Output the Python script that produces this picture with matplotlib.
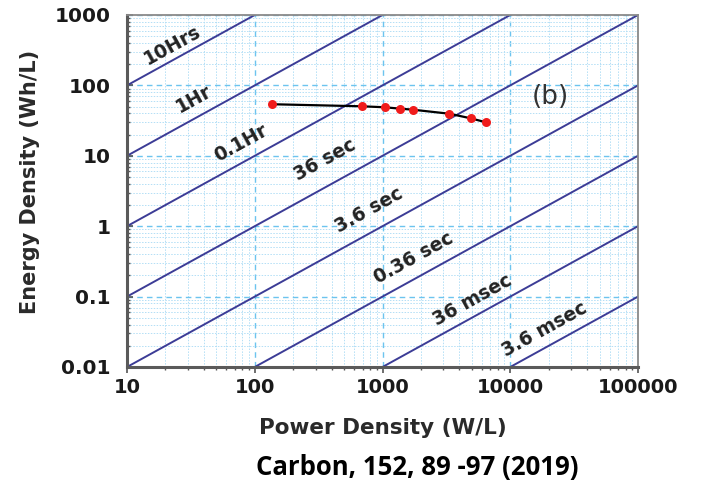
import numpy as np
import matplotlib
matplotlib.use('Agg')
import matplotlib.pyplot as plt
from matplotlib.ticker import LogLocator, NullFormatter


# measured Ragone points
power = [137, 687, 1040, 1378, 1723, 3336, 4900, 6457]
energy = [54, 50.5, 48.9, 46.7, 45.2, 39.6, 34.1, 29.9]

# constant discharge-time lines, time in hours (E = P * t)
times_hr = [10, 1, 0.1, 0.01, 0.001, 0.0001, 0.00001, 0.000001]
time_labels = ['10Hrs', '1Hr', '0.1Hr', '36 sec', '3.6 sec', '0.36 sec', '36 msec', '3.6 msec']
label_x = [22.9, 33.4, 78, 355, 783, 1767, 5020, 18700]
label_y = [375, 64, 15.2, 8.7, 1.70, 0.353, 0.0896, 0.0336]

x_ticks = [10, 100, 1000, 10000, 100000]
x_ticklabels = ['10', '100', '1000', '10000', '100000']
y_ticks = [0.01, 0.1, 1, 10, 100, 1000]
y_ticklabels = ['0.01', '0.1', '1', '10', '100', '1000']

plt.rcParams['font.family'] = ['DejaVu Sans']

fig = plt.figure(figsize=(7.02, 4.83), dpi=100)
W, H = 702, 483
ax = fig.add_axes([127/W, 1 - 367/H, 511/W, 352/H])

ax.set_xscale('log')
ax.set_yscale('log')
ax.set_xlim(10, 100000)
ax.set_ylim(0.01, 1000)

# grid
ax.xaxis.set_minor_locator(LogLocator(base=10, subs=np.arange(2, 10)))
ax.yaxis.set_minor_locator(LogLocator(base=10, subs=np.arange(2, 10)))
ax.grid(which='major', color='#6cc4ef', linestyle=(0, (4, 3)), linewidth=1.0)
ax.grid(which='minor', color='#b3dff6', linestyle=(0, (1.5, 1.5)), linewidth=0.7)
ax.set_axisbelow(True)

# diagonal time lines
px = np.logspace(0, 6, 50)
for t in times_hr:
    ax.plot(px, px * t, color='#3c3c96', linewidth=1.4, zorder=2)

# line labels, rotated along the diagonals
ang = np.degrees(np.arctan((352 / 5) / (511 / 4)))
for txt, lx, ly in zip(time_labels, label_x, label_y):
    ax.text(lx, ly, txt, rotation=ang, rotation_mode='anchor', ha='center', va='center',
            fontsize=13.5, fontweight='bold', color='#222222', zorder=3)

# data series
ax.plot(power, energy, color='black', linewidth=1.6, zorder=4)
ax.plot(power, energy, 'o', color='#f01c1c', markersize=6.5, markeredgewidth=0, zorder=5)

ax.text(550/W, 1 - 97/H, '(b)', transform=fig.transFigure, fontsize=19, color='#333333',
        ha='center', va='center')

# ticks and spines
ax.set_xticks(x_ticks)
ax.set_xticklabels(x_ticklabels)
ax.set_yticks(y_ticks)
ax.set_yticklabels(y_ticklabels)
ax.xaxis.set_minor_formatter(NullFormatter())
ax.yaxis.set_minor_formatter(NullFormatter())
ax.tick_params(axis='both', which='major', length=4, width=1.2, color='#555555',
               labelcolor='#1a1a1a')
ax.tick_params(axis='x', which='major', labelsize=14, pad=4)
ax.tick_params(axis='y', which='major', labelsize=14.5, pad=12)
ax.tick_params(axis='x', which='both', direction='out')
ax.tick_params(axis='y', which='both', direction='in')
ax.tick_params(axis='both', which='minor', length=2.5, width=1.0, color='#555555')
for lab in ax.get_xticklabels() + ax.get_yticklabels():
    lab.set_fontweight('bold')

for side in ['left', 'bottom']:
    ax.spines[side].set_color('#5a5a5a')
    ax.spines[side].set_linewidth(2.2)
for side in ['top', 'right']:
    ax.spines[side].set_color('#8a8a8a')
    ax.spines[side].set_linewidth(1.3)

fig.text(383/W, 1 - 428/H, 'Power Density (W/L)', ha='center', va='center',
         fontsize=15.5, fontweight='bold', color='#2a2a2a')
fig.text(30/W, 1 - 182/H, 'Energy Density (Wh/L)', ha='center', va='center', rotation=90,
         fontsize=15, fontweight='bold', color='#2a2a2a')

fig.text(417/W, 1 - 468/H, 'Carbon, 152, 89 -97 (2019)', ha='center', va='center',
         fontsize=18.5, fontweight='bold', color='black', family=['Open Sans', 'DejaVu Sans'])

fig.savefig('out.png', dpi=100)
